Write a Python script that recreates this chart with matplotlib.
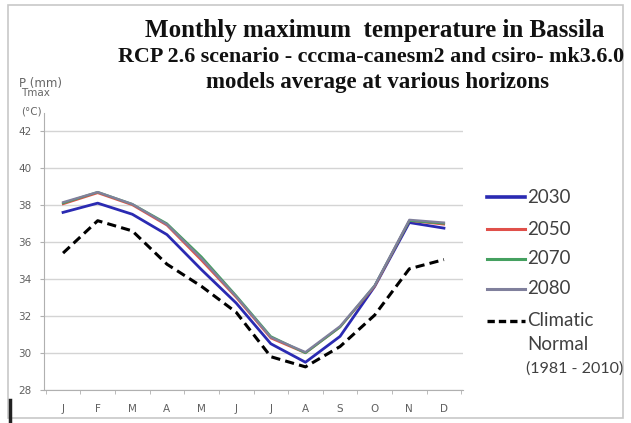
import numpy as np
import matplotlib
matplotlib.use('Agg')
import matplotlib.pyplot as plt
from matplotlib.lines import Line2D
from matplotlib.patches import Rectangle

W, H = 631, 423

# data
months = ['J', 'F', 'M', 'A', 'M', 'J', 'J', 'A', 'S', 'O', 'N', 'D']
t2030 = [37.6, 38.1, 37.5, 36.4, 34.5, 32.7, 30.5, 29.5, 30.9, 33.6, 37.05, 36.75]
t2050 = [38.05, 38.65, 38.0, 36.9, 35.0, 33.0, 30.8, 30.0, 31.4, 33.6, 37.15, 36.95]
t2070 = [38.1, 38.7, 38.05, 37.0, 35.2, 33.1, 30.9, 30.0, 31.4, 33.65, 37.15, 37.0]
t2080 = [38.15, 38.7, 38.05, 36.95, 35.1, 33.05, 30.85, 30.05, 31.45, 33.65, 37.2, 37.05]
normal = [35.4, 37.15, 36.6, 34.8, 33.6, 32.2, 29.8, 29.25, 30.35, 32.05, 34.55, 35.05]
yticks = [28, 30, 32, 34, 36, 38, 40, 42]

series = [
    ('2030', t2030, '#2a2ab2', 2.0, '-'),
    ('2050', t2050, '#e0504a', 1.6, '-'),
    ('2070', t2070, '#45a060', 1.6, '-'),
    ('2080', t2080, '#80809c', 1.6, '-'),
]


def fx(x):
    return x / W


def fy(y):
    return 1 - y / H


fig = plt.figure(figsize=(W / 100, H / 100), dpi=100)
fig.patch.set_facecolor('white')

# plot area (pixels measured on the reference)
ax = fig.add_axes([fx(44), fy(390), (463 - 44) / W, (390 - 112.5) / H])
x = np.arange(len(months))
for name, vals, col, lw, ls in series:
    ax.plot(x, vals, color=col, lw=lw, ls=ls, solid_joinstyle='round')
ax.plot(x, normal, color='black', lw=2.2, dashes=(3, 1.7))

ax.set_xlim(-0.55, 11.55)
ax.set_ylim(28, 43)
ax.set_yticks(yticks)
ax.set_xticks(x)
ax.set_xticklabels(months)
ax.set_xticks(np.arange(-0.5, 12, 1), minor=True)
ax.tick_params(axis='x', which='major', length=0, pad=10, labelsize=7.5,
               labelcolor='#606060')
ax.tick_params(axis='x', which='minor', length=3, color='#b0b0b0', direction='out')
ax.tick_params(axis='y', length=3, color='#b0b0b0', pad=6, labelsize=7.5,
               labelcolor='#606060')
ax.grid(axis='y', color='#d4d4d4', lw=1.0)
ax.set_axisbelow(True)
for s in ['top', 'right']:
    ax.spines[s].set_visible(False)
ax.spines['left'].set_color('#b0b0b0')
ax.spines['bottom'].set_color('#b0b0b0')

# titles
tfont = dict(family='Liberation Serif', weight='bold', color='#111111', ha='center', va='center')
fig.text(fx(375), fy(31), 'Monthly maximum  temperature in Bassila', fontsize=18, **tfont)
fig.text(fx(371), fy(57), 'RCP 2.6 scenario - cccma-canesm2 and csiro- mk3.6.0', fontsize=15.8, **tfont)
fig.text(fx(378), fy(82), 'models average at various horizons', fontsize=16.5, **tfont)

# axis label block
lab = dict(color='#666666', ha='left', va='center', family='DejaVu Sans')
fig.text(fx(19), fy(83), 'P (mm)', fontsize=8.5, **lab)
fig.text(fx(21), fy(93), 'Tmax', fontsize=7.5, **lab)
fig.text(fx(21), fy(112), '(°C)', fontsize=7.5, **lab)

# legend drawn by hand so the dashed handle sits on the first line
leg_y = [197, 229, 259, 289]
tf = dict(family='Lato', fontsize=13.5, color='#404040', ha='left', va='center')
for (name, vals, col, lw, ls), yy in zip(series, leg_y):
    fig.add_artist(Line2D([fx(487), fx(525)], [fy(yy), fy(yy)], color=col, lw=lw + 0.6))
    fig.text(fx(527), fy(yy), name, **tf)
fig.add_artist(Line2D([fx(487), fx(525)], [fy(321), fy(321)], color='black', lw=2.4,
                      dashes=(2.2, 1.2)))
fig.text(fx(527), fy(320), 'Climatic', **tf)
fig.text(fx(527), fy(345), 'Normal', **tf)
fig.text(fx(526), fy(369), '(1981 - 2010)', **dict(tf, fontsize=11.5))

# outer frame of the screenshot
fig.add_artist(Rectangle((fx(8), fy(418)), (623 - 8) / W, (418 - 5) / H, fill=False,
                         ec='#c8c8c8', lw=1.2))
fig.add_artist(Line2D([fx(9.5), fx(9.5)], [fy(400), fy(423)], color='#222222', lw=2.5))

fig.savefig('out.png', dpi=100)
